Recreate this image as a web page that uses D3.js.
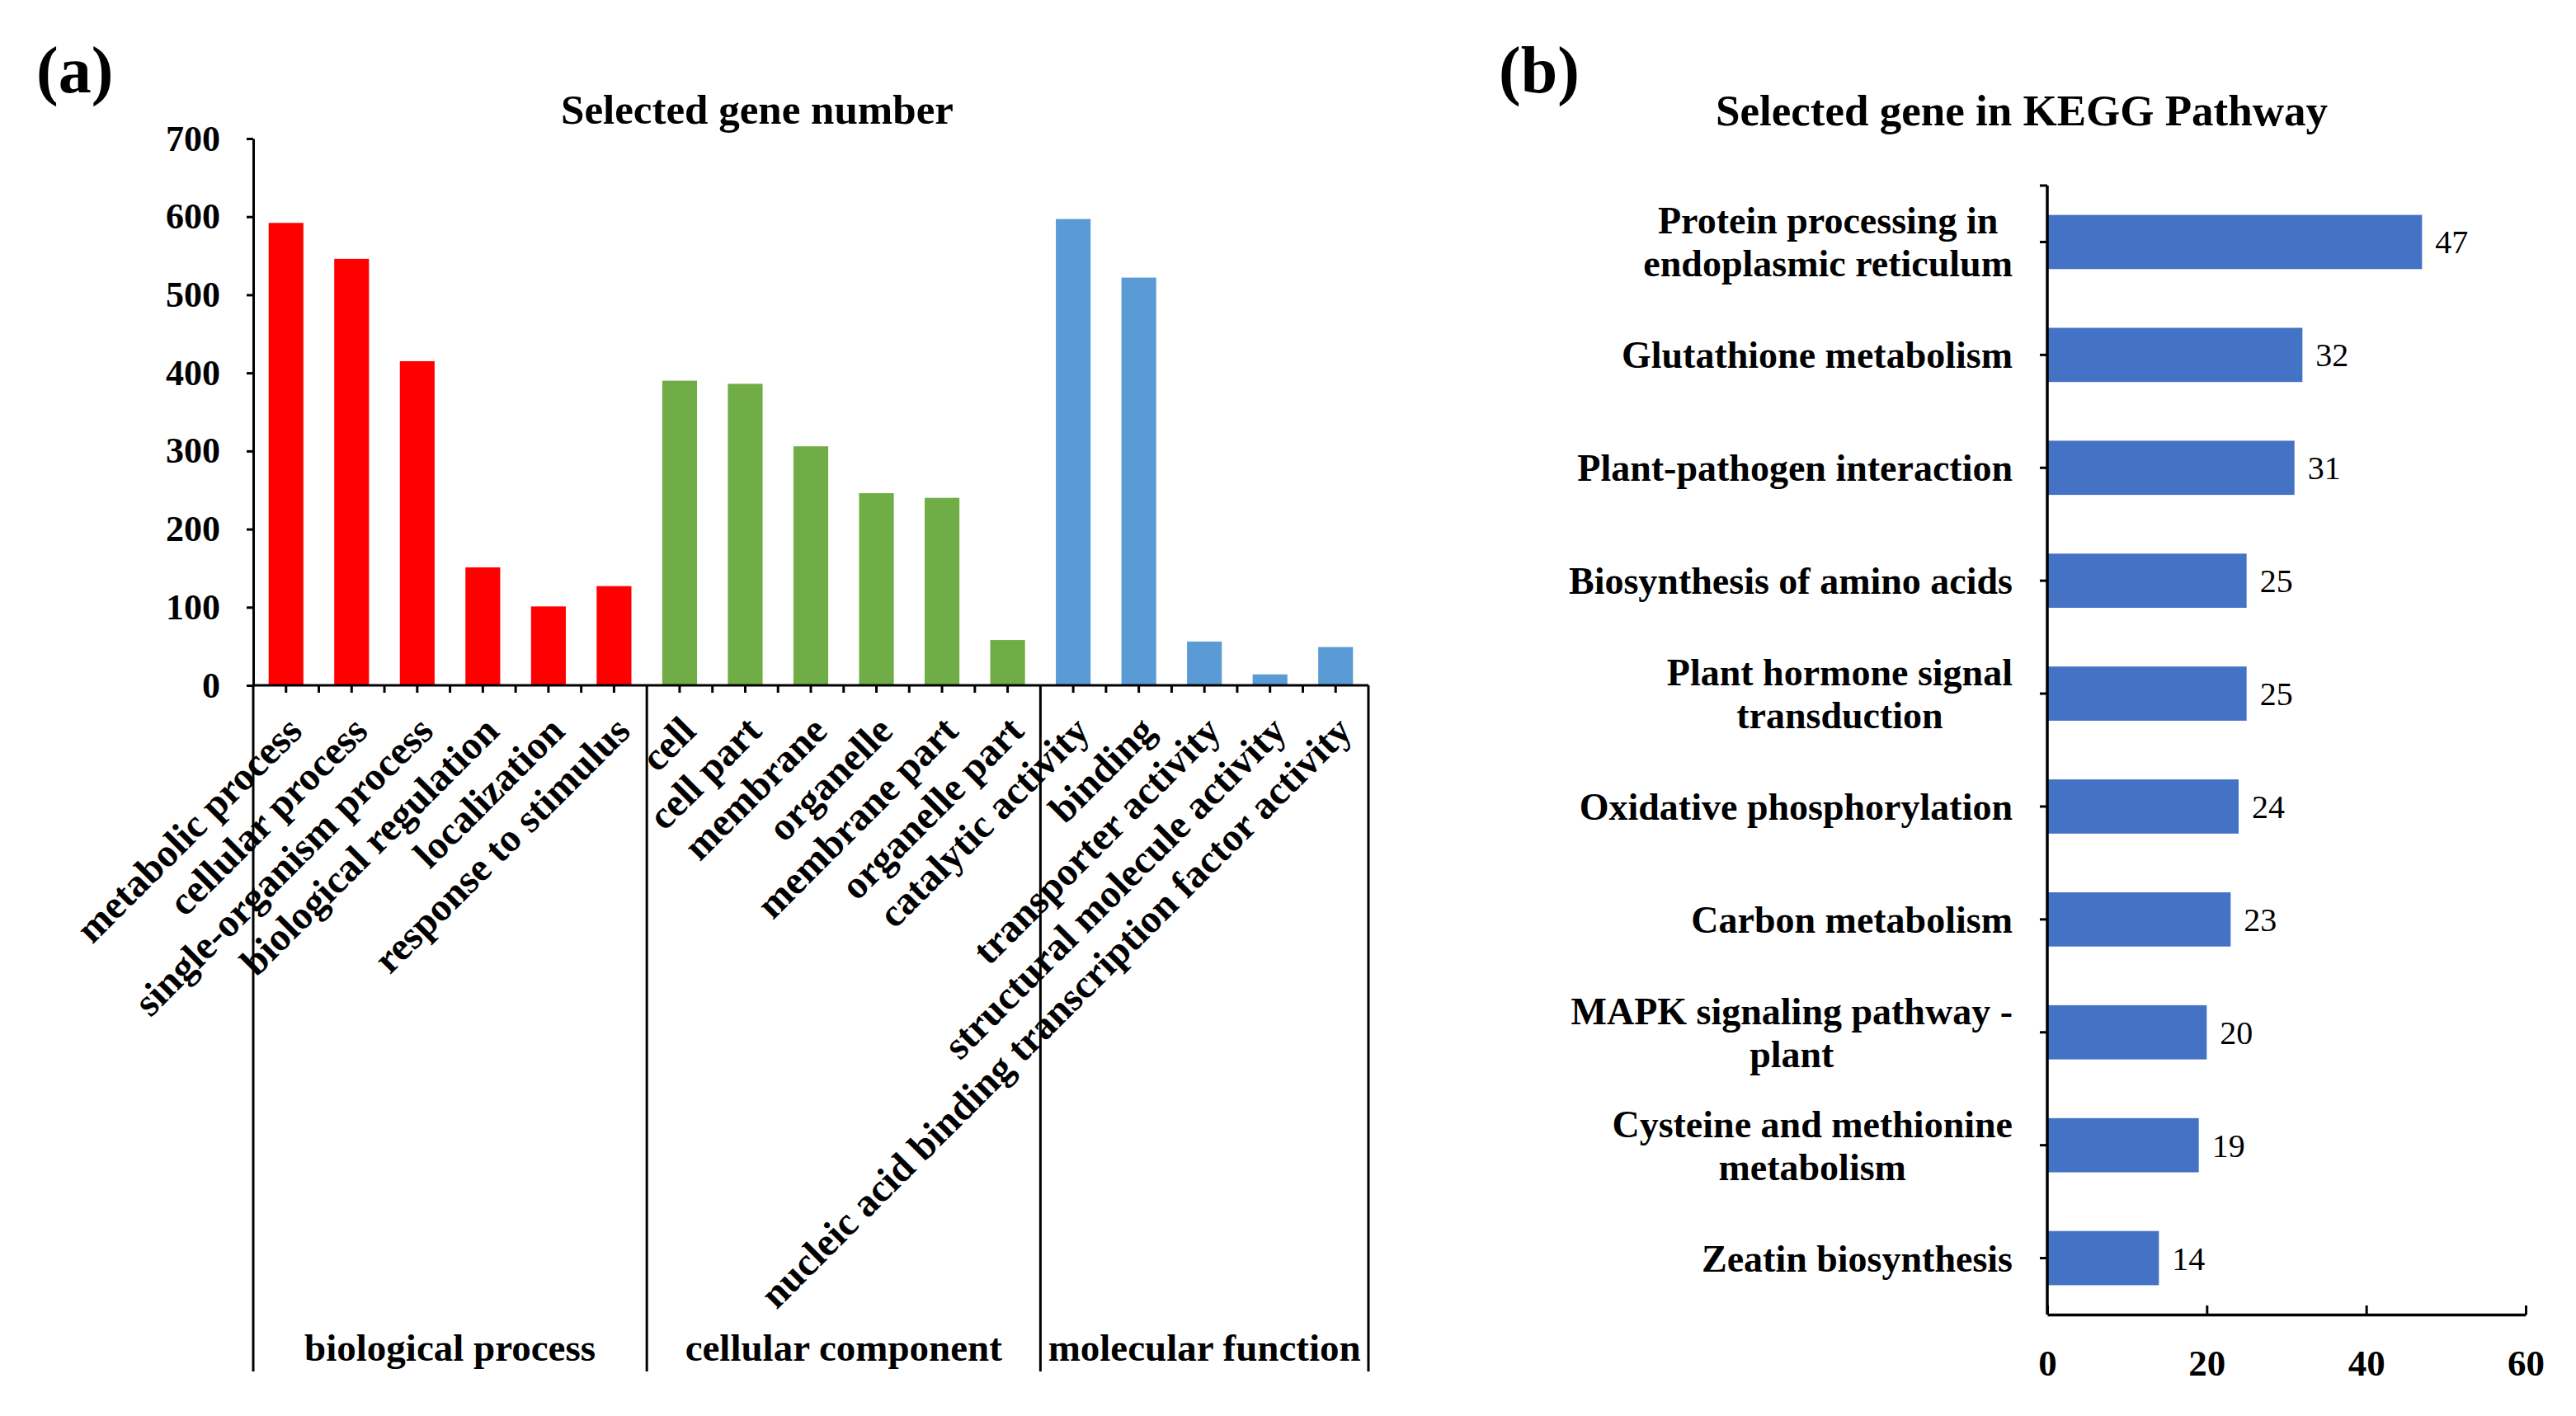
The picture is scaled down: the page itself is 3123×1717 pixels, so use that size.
<!DOCTYPE html>
<html><head><meta charset="utf-8">
<script src="https://cdn.jsdelivr.net/npm/d3@7/dist/d3.min.js"></script>
<style>body{margin:0;background:#fff}svg{display:block}</style>
</head><body><svg id="chart" width="3123" height="1717"></svg>
<script>
// ---------- data ----------
const goCategories = ["metabolic process","cellular process","single-organism process","biological regulation","localization","response to stimulus",
  "cell","cell part","membrane","organelle","membrane part","organelle part",
  "catalytic activity","binding","transporter activity","structural molecule activity","nucleic acid binding transcription factor activity"];
const goValues = [592,546,415,151,101,127, 390,386,306,246,240,58, 597,522,56,14,49];
const goGroupNames = ["biological process","cellular component","molecular function"];
const goGroupSizes = [6,6,5];
const goGroupColors = ["#FF0000","#70AD47","#5B9BD5"];
const goTicks = [0,100,200,300,400,500,600,700];

const keggPathways = ["Protein processing in\nendoplasmic reticulum","Glutathione metabolism","Plant-pathogen interaction",
  "Biosynthesis of amino acids","Plant hormone signal\ntransduction","Oxidative phosphorylation","Carbon metabolism",
  "MAPK signaling pathway -\nplant","Cysteine and methionine\nmetabolism","Zeatin biosynthesis"];
const keggValues = [47,32,31,25,25,24,23,20,19,14];
const keggTicks = [0,20,40,60];
const keggColor = "#4472C4";

// ---------- setup ----------
const FONT = "'Liberation Serif','Times New Roman',serif";
const svg = d3.select("#chart").style("font-family", FONT);
svg.append("rect").attr("width",3123).attr("height",1717).attr("fill","#fff");

// panel letters
svg.append("text").attr("x",44).attr("y",112).attr("font-size",80).attr("font-weight","bold").text("(a)");
svg.append("text").attr("x",1817).attr("y",112).attr("font-size",80).attr("font-weight","bold").text("(b)");

// ================= Panel (a) =================
const aLeft = 307, aRight = 1659, aTop = 168, aBottom = 831, aGroupBottom = 1663;
const groupIndex = [];
goGroupSizes.forEach((s,gi)=>{ for(let k=0;k<s;k++) groupIndex.push(gi); });

const xA = d3.scaleBand().domain(goCategories).range([aLeft,aRight]).paddingInner(0.47).paddingOuter(0.235);
const yA = d3.scaleLinear().domain([0,700]).range([aBottom,aTop]);
const step = xA.step(), bw = xA.bandwidth();

const gA = svg.append("g");
gA.append("text").attr("x",918).attr("y",150).attr("text-anchor","middle")
  .attr("font-size",51).attr("font-weight","bold").text("Selected gene number");

gA.selectAll("rect.bar").data(goCategories).join("rect").attr("class","bar")
  .attr("x",d=>xA(d)).attr("width",bw)
  .attr("y",(d,i)=>yA(goValues[i])).attr("height",(d,i)=>yA(0)-yA(goValues[i]))
  .attr("fill",(d,i)=>goGroupColors[groupIndex[i]]);

// y axis
const yAxisA = d3.axisLeft(yA).tickValues(goTicks).tickSize(8).tickSizeOuter(0).tickPadding(32);
const yAx = gA.append("g").attr("transform",`translate(${aLeft},0)`).call(yAxisA);
yAx.select(".domain").attr("stroke","#000").attr("stroke-width",3);
yAx.selectAll(".tick line").attr("stroke","#000").attr("stroke-width",3);
yAx.selectAll(".tick text").attr("font-family",FONT).attr("font-size",44).attr("font-weight","bold").attr("fill","#000");

// x axis baseline
gA.append("line").attr("x1",aLeft).attr("x2",aRight).attr("y1",aBottom).attr("y2",aBottom)
  .attr("stroke","#000").attr("stroke-width",3);

// small ticks at centres and between categories
const boundaries = [0]; goGroupSizes.reduce((acc,s)=>{acc+=s; boundaries.push(acc); return acc;},0);
const tickXs = [];
goCategories.forEach((c,i)=>{
  tickXs.push(xA(c)+bw/2);
  if(i>0 && !boundaries.includes(i)) tickXs.push(xA(c)-(step-bw)/2);
});
gA.selectAll("line.xt").data(tickXs).join("line").attr("class","xt")
  .attr("x1",d=>d).attr("x2",d=>d).attr("y1",aBottom).attr("y2",aBottom+9)
  .attr("stroke","#000").attr("stroke-width",3);

// group separator lines
const sepXs = boundaries.map(b=> b===goCategories.length ? aRight : xA(goCategories[b])-(step-bw)/2);
gA.selectAll("line.sep").data(sepXs).join("line").attr("class","sep")
  .attr("x1",d=>d).attr("x2",d=>d).attr("y1",aBottom).attr("y2",aGroupBottom)
  .attr("stroke","#000").attr("stroke-width",3);

// rotated category labels
gA.selectAll("text.cat").data(goCategories).join("text").attr("class","cat")
  .attr("transform",d=>`translate(${xA(d)+bw/2+22},${aBottom+58}) rotate(-45)`)
  .attr("text-anchor","end").attr("font-size",48).attr("font-weight","bold").text(d=>d);

// group labels
gA.selectAll("text.grp").data(goGroupNames).join("text").attr("class","grp")
  .attr("x",(d,i)=>(sepXs[i]+sepXs[i+1])/2).attr("y",1650)
  .attr("text-anchor","middle").attr("font-size",47).attr("font-weight","bold").text(d=>d);

// ================= Panel (b) =================
const bLeft = 2482, bRight = 3062, bTop = 225, bBottom = 1594;
const yB = d3.scaleBand().domain(keggPathways).range([bTop,bBottom]).paddingInner(0.52).paddingOuter(0.26);
const xB = d3.scaleLinear().domain([0,60]).range([bLeft,bRight]);
const gB = svg.append("g");

gB.append("text").attr("x",2451).attr("y",152).attr("text-anchor","middle")
  .attr("font-size",53).attr("font-weight","bold").text("Selected gene in KEGG Pathway");

gB.selectAll("rect.bar").data(keggPathways).join("rect").attr("class","bar")
  .attr("x",xB(0)).attr("y",d=>yB(d)).attr("height",yB.bandwidth())
  .attr("width",(d,i)=>xB(keggValues[i])-xB(0)).attr("fill",keggColor);

// value labels
gB.selectAll("text.val").data(keggPathways).join("text").attr("class","val")
  .attr("x",(d,i)=>xB(keggValues[i])+16).attr("y",d=>yB(d)+yB.bandwidth()/2).attr("dy","0.35em")
  .attr("font-size",40).text((d,i)=>keggValues[i]);

// x axis
const xAxisB = d3.axisBottom(xB).tickValues(keggTicks).tickSize(-11).tickSizeOuter(0).tickPadding(0);
const xAx = gB.append("g").attr("transform",`translate(0,${bBottom})`).call(xAxisB);
xAx.select(".domain").attr("stroke","#000").attr("stroke-width",3.5);
xAx.selectAll(".tick line").attr("stroke","#000").attr("stroke-width",3);
xAx.selectAll(".tick text").attr("font-family",FONT).attr("font-size",45).attr("font-weight","bold")
  .attr("fill","#000").attr("y",74).attr("dy",0);

// y axis
gB.append("line").attr("x1",bLeft).attr("x2",bLeft).attr("y1",bTop).attr("y2",bBottom)
  .attr("stroke","#000").attr("stroke-width",3.5);
const yTickYs = [bTop].concat(keggPathways.map(d=>yB(d)+yB.bandwidth()/2));
gB.selectAll("line.yt").data(yTickYs).join("line").attr("class","yt")
  .attr("x1",bLeft-9).attr("x2",bLeft).attr("y1",d=>d).attr("y2",d=>d)
  .attr("stroke","#000").attr("stroke-width",3);

// category labels (multi-line, centred block, right edge aligned)
const labelRight = 2440, lineH = 52;
keggPathways.forEach((d,i)=>{
  const lines = d.split("\n");
  const cy = yB(d)+yB.bandwidth()/2;
  const t = gB.append("text").attr("class","klab").attr("text-anchor","middle")
    .attr("font-size",46).attr("font-weight","bold");
  lines.forEach((ln,k)=>{
    t.append("tspan").attr("x",0).attr("y",cy + (k-(lines.length-1)/2)*lineH + 16).text(ln);
  });
  const w = t.node().getBBox().width;
  t.selectAll("tspan").attr("x",labelRight - w/2);
});
</script></body></html>
